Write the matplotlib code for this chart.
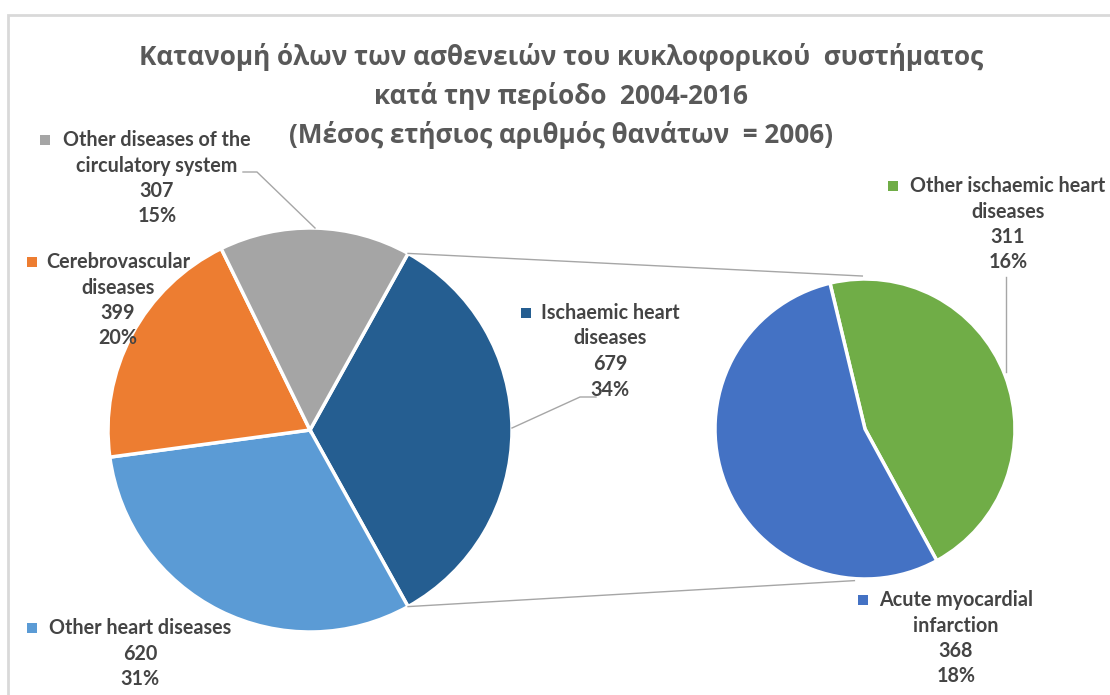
import numpy as np
import matplotlib.pyplot as plt
from matplotlib.patches import Rectangle

# dedomena
main_labels = ['Ischaemic heart\ndiseases', 'Other heart diseases',
               'Cerebrovascular\ndiseases', 'Other diseases of the\ncirculatory system']
main_values = [679, 620, 399, 307]
main_colors = ['#255E91', '#5B9BD5', '#ED7D31', '#A5A5A5']

sub_labels = ['Other ischaemic heart\ndiseases', 'Acute myocardial\ninfarction']
sub_values = [311, 368]
sub_colors = ['#70AD47', '#4472C4']

title_lines = ['Κατανομή όλων των ασθενειών του κυκλοφορικού  συστήματος',
               'κατά την περίοδο  2004-2016',
               '(Μέσος ετήσιος αριθμός θανάτων  = 2006)']

W, H = 1110, 695
plt.rcParams['font.family'] = ['Lato', 'DejaVu Sans']
txt_col = '#444444'

fig = plt.figure(figsize=(W / 100, H / 100), dpi=100)
ax = fig.add_axes([0, 0, 1, 1])


def Y(y):
    return H - y


total = sum(main_values)
main_c, main_r = (310, Y(430)), 202
sub_c, sub_r = (865, Y(429)), 150

start_main = main_values[0] / total * 180
ax.pie(main_values, colors=main_colors, startangle=start_main, counterclock=False,
       center=main_c, radius=main_r, frame=True,
       wedgeprops=dict(edgecolor='white', linewidth=2.5))
ax.pie(sub_values, colors=sub_colors, startangle=103.5, counterclock=False,
       center=sub_c, radius=sub_r, frame=True,
       wedgeprops=dict(edgecolor='white', linewidth=2.5))
ax.set_xlim(0, W)
ax.set_ylim(0, H)
ax.set_aspect('equal')
ax.axis('off')

# chenar
ax.add_patch(Rectangle((8, Y(700)), 1200, 700 - 15, fill=False, edgecolor='#D9D9D9', lw=2))

# linii de legatura
a = np.deg2rad(start_main)
p1 = (main_c[0] + main_r * np.cos(a), main_c[1] + main_r * np.sin(a))
p2 = (main_c[0] + main_r * np.cos(-a), main_c[1] + main_r * np.sin(-a))
q1 = (sub_c[0] + 153 * np.cos(np.deg2rad(91)), sub_c[1] + 153 * np.sin(np.deg2rad(91)))
q2 = (sub_c[0] + 152 * np.cos(np.deg2rad(-94)), sub_c[1] + 152 * np.sin(np.deg2rad(-94)))
ax.plot([p1[0], q1[0]], [p1[1], q1[1]], color='#A6A6A6', lw=1)
ax.plot([p2[0], q2[0]], [p2[1], q2[1]], color='#A6A6A6', lw=1)

# titlu
for i, line in enumerate(title_lines):
    ax.text(561, Y(57 + i * 39), line, ha='center', va='center', fontsize=18.8,
            color='#595959', fontweight='bold', family=['Open Sans', 'DejaVu Sans'])

# etichete: (centru x, y prima linie, x marker)
label_pos = {
    'Ischaemic heart\ndiseases': (610, 313, 523),
    'Other heart diseases': (140, 628, 29),
    'Cerebrovascular\ndiseases': (118, 262, 29),
    'Other diseases of the\ncirculatory system': (157, 140, 42),
    'Other ischaemic heart\ndiseases': (1008, 186, 890),
    'Acute myocardial\ninfarction': (956, 600, 860),
}


def draw_label(name, value, color):
    cx, y0, mx = label_pos[name]
    lines = name.split('\n') + [str(value), f'{value / total * 100:.0f}%']
    for k, ln in enumerate(lines):
        ax.text(cx, Y(y0 + k * 25.5), ln, ha='center', va='center', fontsize=14.2,
                color=txt_col, fontweight='bold')
    ax.plot(mx + 3, Y(y0), marker='s', ms=6.5, color=color, mew=0)


for n, v, c in zip(main_labels, main_values, main_colors):
    draw_label(n, v, c)
for n, v, c in zip(sub_labels, sub_values, sub_colors):
    draw_label(n, v, c)

# linii de ghidare
lc = '#A6A6A6'
ax.plot([243, 257, 315], [Y(172), Y(172), Y(228)], color=lc, lw=1)
ax.plot([512, 580, 596], [Y(428), Y(397), Y(397)], color=lc, lw=1)
ax.plot([1006, 1006], [Y(277), Y(372)], color=lc, lw=1)

fig.savefig('out.png', dpi=100)
